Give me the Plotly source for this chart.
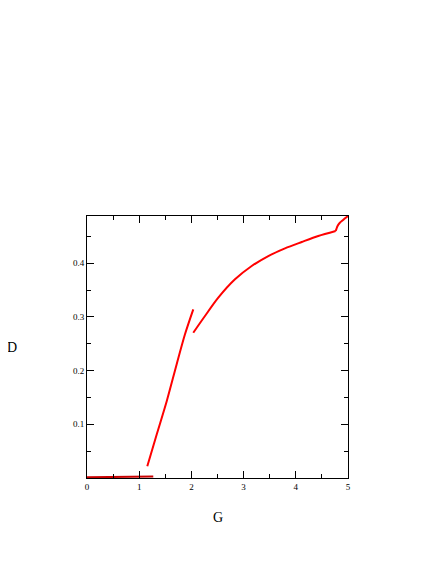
import plotly.graph_objects as go

# Branch 1: near-zero branch
g1 = [0.0, 0.4, 0.8, 1.27]
d1 = [0.0012, 0.0016, 0.0022, 0.0030]

# Branch 2: steep rising branch
g2 = [1.155, 1.335, 1.527, 1.718, 1.877, 2.036]
d2 = [0.022, 0.081, 0.143, 0.212, 0.2676, 0.314]

# Branch 3: upper branch (smooth part)
g3 = [2.036, 2.26, 2.515, 2.835, 3.155, 3.473, 3.793, 4.113, 4.43, 4.764]
d3 = [0.2706, 0.3017, 0.3358, 0.370, 0.3948, 0.4134, 0.4277, 0.4395, 0.4507, 0.460]

# Branch 3: final upturn near G = 5
g4 = [4.764, 4.78, 4.80, 4.84, 4.90, 4.95, 5.0]
d4 = [0.460, 0.4645, 0.4695, 0.4750, 0.4800, 0.4842, 0.4880]

x_ticks = [0, 1, 2, 3, 4, 5]
y_ticks = [0.1, 0.2, 0.3, 0.4]

RED = "rgb(255,0,0)"
font = "Liberation Serif, Times New Roman, serif"

fig = go.Figure()
for gx, dy, col, shp in [(g1, d1, "rgb(200,0,0)", "linear"), (g2, d2, RED, "spline"),
                         (g3, d3, RED, "spline"), (g4, d4, RED, "spline")]:
    fig.add_trace(go.Scatter(x=gx, y=dy, mode="lines",
                             line=dict(color=col, width=2, shape=shp, smoothing=0.8),
                             showlegend=False, hoverinfo="skip"))

axis_common = dict(showline=True, linecolor="black", linewidth=1, mirror="ticks",
                   ticks="inside", ticklen=7, tickwidth=1, tickcolor="black",
                   showgrid=False, zeroline=False,
                   tickfont=dict(family=font, size=9, color="black"))

fig.update_xaxes(range=[0, 5], tickvals=x_ticks, ticktext=[str(v) for v in x_ticks],
                 minor=dict(dtick=0.5, tick0=0, ticks="inside", ticklen=4, tickcolor="black", showgrid=False),
                 **axis_common)
fig.update_yaxes(range=[0, 0.488], tickvals=y_ticks, ticktext=[str(v) for v in y_ticks],
                 minor=dict(dtick=0.05, tick0=0, ticks="inside", ticklen=4, tickcolor="black", showgrid=False),
                 **axis_common)

fig.add_annotation(text="G", xref="paper", yref="paper", x=0.5, y=0, yanchor="middle",
                   yshift=-39, showarrow=False, font=dict(family=font, size=14, color="black"))
fig.add_annotation(text="D", xref="paper", yref="paper", x=0, y=0.5, xanchor="center",
                   xshift=-75, showarrow=False, font=dict(family=font, size=14, color="black"))

fig.update_layout(width=436, height=564, margin=dict(l=79, r=96, t=208, b=94),
                  paper_bgcolor="white", plot_bgcolor="white")

fig.write_html("out.html")
